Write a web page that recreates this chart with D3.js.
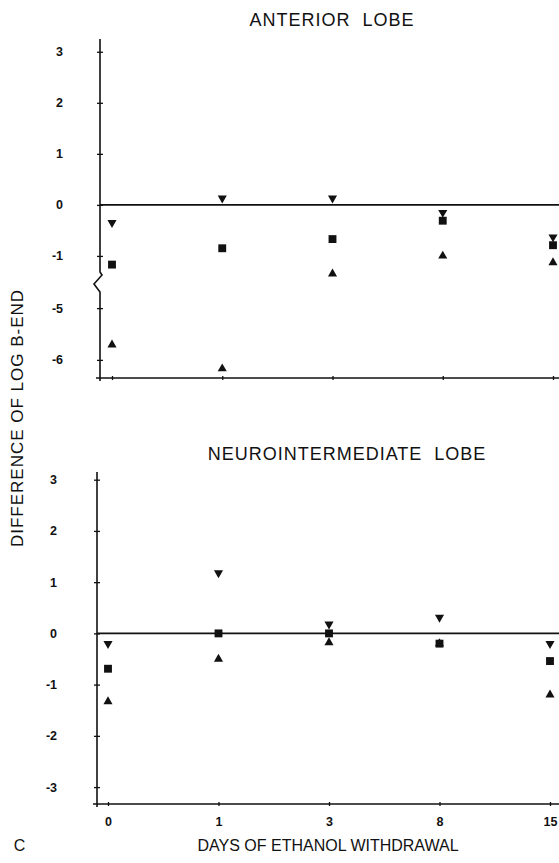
<!DOCTYPE html>
<html>
<head>
<meta charset="utf-8">
<script src="https://cdn.jsdelivr.net/npm/d3@7"></script>
<style>
  body { margin: 0; background: #fff; }
  text { font-family: "Liberation Sans", Arial, sans-serif; fill: #111; }
  .tick text { font-weight: bold; font-size: 12.5px; }
  .title { font-size: 18px; letter-spacing: 1px; white-space: pre; }
</style>
</head>
<body>
<script>

// days of ethanol withdrawal (categorical, evenly spaced)
var days = ["0", "1", "3", "8", "15"];

// anterior lobe
var antUp     = [-5.71, -6.17, -1.35, -1.00, -1.13];
var antSquare = [-1.17, -0.85, -0.67, -0.31, -0.79];
var antDown   = [-0.35,  0.13,  0.13, -0.15, -0.63];

// neurointermediate lobe
var niUp     = [-1.33, -0.50, -0.18, -0.20, -1.20];
var niSquare = [-0.69,  0.00,  0.00, -0.20, -0.54];
var niDown   = [-0.20,  1.18,  0.18,  0.31, -0.20];

var antTicks = [3, 2, 1, 0, -1, -5, -6];
var niTicks  = [3, 2, 1, 0, -1, -2, -3];

var W = 559, H = 863;

var svg = d3.select("body")
            .append("svg")
            .attr("width", W)
            .attr("height", H);

// top panel, broken y axis between -1 and -5
var yTop = d3.scaleLinear()
             .domain([-6.35, -4.65, -1.55, 3.25])
             .range([378, 290, 284, 39]);
var xTop = d3.scalePoint().domain(days).range([112, 553]);

var yBot = d3.scaleLinear()
             .domain([-3.33, 3.15])
             .range([804, 472]);
var xBot = d3.scalePoint().domain(days).range([108, 550]);

function panel(x, y, x0, pad, ticks, up, sq, down, broken, showX) {
  var g = svg.append("g");

  // y axis labels + cross ticks
  var ya = g.append("g")
            .attr("transform", "translate(" + x0 + ",0)")
            .call(d3.axisLeft(y).tickValues(ticks).tickSize(0).tickPadding(pad).tickFormat(function(d) { return String(d); }));
  ya.select(".domain").remove();
  ya.selectAll(".tick line").attr("x1", -3).attr("x2", 3).attr("stroke", "#111").attr("stroke-width", 1.3);
  ya.selectAll(".tick text").attr("text-anchor", "end");

  // y axis line
  var yr = y.range();
  var top = yr[yr.length - 1], bot = yr[0];
  if (broken) {
    g.append("path")
     .attr("d", "M" + x0 + "," + top + " L" + x0 + ",272 L" + (x0 + 2) + ",275 L" + (x0 - 6) + ",284 L" + x0 + ",292 L" + x0 + "," + (bot + 3))
     .attr("fill", "none").attr("stroke", "#111").attr("stroke-width", 1.6);
  } else {
    g.append("line")
     .attr("x1", x0).attr("x2", x0).attr("y1", top).attr("y2", bot + 3)
     .attr("stroke", "#111").attr("stroke-width", 1.6);
  }

  // bottom axis
  var xa = g.append("g")
            .attr("transform", "translate(0," + bot + ")")
            .call(d3.axisBottom(x).tickSize(0).tickPadding(13));
  xa.select(".domain").remove();
  xa.selectAll(".tick line").attr("y1", -2).attr("y2", 2).attr("stroke", "#111").attr("stroke-width", 1.3);
  if (!showX) xa.selectAll(".tick text").remove();
  g.append("line")
   .attr("x1", x0 - 4).attr("x2", W).attr("y1", bot).attr("y2", bot)
   .attr("stroke", "#111").attr("stroke-width", 1.6);

  // zero line
  g.append("line")
   .attr("x1", x0).attr("x2", W).attr("y1", y(0)).attr("y2", y(0))
   .attr("stroke", "#111").attr("stroke-width", 1.6);

  // markers
  var tri = d3.symbol().type(d3.symbolTriangle).size(36);
  var sqr = d3.symbol().type(d3.symbolSquare).size(62);

  g.selectAll(".up").data(up).enter().append("path")
   .attr("d", tri)
   .attr("fill", "#111")
   .attr("transform", function(d, i) { return "translate(" + x(days[i]) + "," + y(d) + ")"; });

  g.selectAll(".dn").data(down).enter().append("path")
   .attr("d", tri)
   .attr("fill", "#111")
   .attr("transform", function(d, i) { return "translate(" + x(days[i]) + "," + y(d) + ") rotate(180)"; });

  g.selectAll(".sq").data(sq).enter().append("path")
   .attr("d", sqr)
   .attr("fill", "#111")
   .attr("transform", function(d, i) { return "translate(" + x(days[i]) + "," + y(d) + ")"; });
}

panel(xTop, yTop, 100, 37, antTicks, antUp, antSquare, antDown, true, false);
panel(xBot, yBot, 97, 40, niTicks, niUp, niSquare, niDown, false, true);

function label(txt, x, y, rot) {
  var t = svg.append("text")
     .attr("class", "title")
     .attr("text-anchor", "middle")
     .attr("dominant-baseline", "middle")
     .text(txt);
  if (rot) t.attr("transform", "translate(" + x + "," + y + ") rotate(-90)");
  else t.attr("x", x).attr("y", y);
  return t;
}

label("ANTERIOR  LOBE", 332, 21);
label("NEUROINTERMEDIATE  LOBE", 347, 455);
label("DIFFERENCE OF LOG B-END", 19, 418, true).style("font-size", "17px");
label("DAYS OF ETHANOL WITHDRAWAL", 328, 847).style("font-size", "16px").style("letter-spacing", "0px");
label("C", 20, 847).style("font-size", "16px");

</script>
</body>
</html>
